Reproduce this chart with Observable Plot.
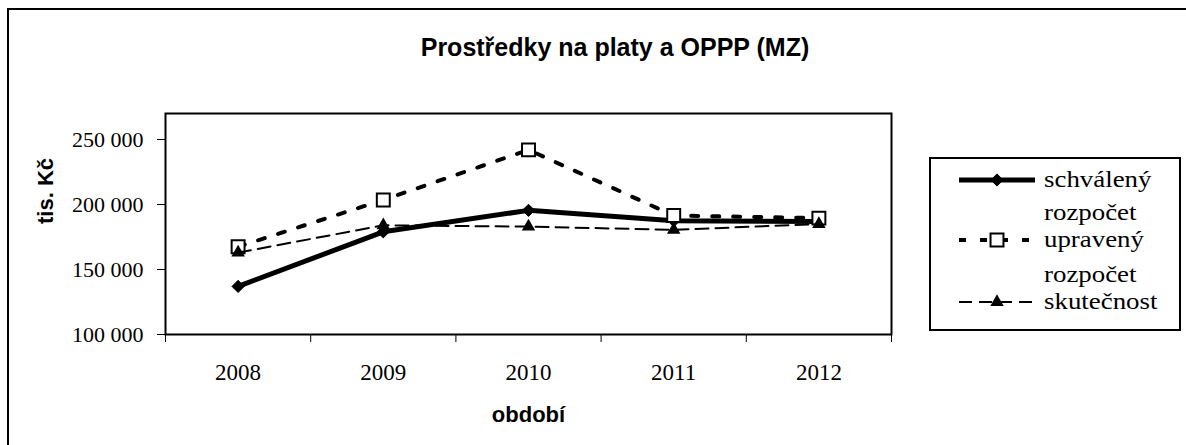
<!DOCTYPE html>
<html>
<head>
<meta charset="utf-8">
<script src="https://cdn.jsdelivr.net/npm/d3@7"></script>
<script src="https://cdn.jsdelivr.net/npm/@observablehq/plot@0.6"></script>
<style>
  html, body { margin: 0; padding: 0; background: #fff; overflow: hidden; }
  #wrap { position: relative; width: 1186px; height: 445px; overflow: hidden; background: #fff; }
  #border { position: absolute; left: 7px; top: 8px; width: 1200px; height: 460px; border: 2px solid #000; box-sizing: border-box; }
  #title { position: absolute; left: 0; top: 35px; width: 1230px; text-align: center; font-family: "Liberation Sans"; font-weight: bold; font-size: 25px; line-height: 25px; color: #000; }
  #chart { position: absolute; left: 0; top: 0; }
  #legend { position: absolute; left: 929px; top: 157px; }
</style>
</head>
<body>
<div id="wrap">
  <div id="border"></div>
  <div id="chart"></div>
  <div id="title"></div>
  <div id="legend"></div>
</div>
<script>
// ---- data ----
const titleText = "Prostředky na platy a OPPP (MZ)";
const yLabel = "tis. Kč";
const xLabel = "období";
const years = [2008, 2009, 2010, 2011, 2012];
const schvaleny = [137000, 179000, 195500, 187500, 187000];
const upraveny = [167500, 203500, 242000, 191500, 189500];
const skutecnost = [163000, 184000, 183000, 180500, 185000];
const yTicks = [100000, 150000, 200000, 250000];
const legendLines = [["schválený"], ["rozpočet", "upravený"], ["rozpočet", "skutečnost"]];

const fmt = d => d3.format(",")(d).replace(/,/g, " ");
const rows = vals => years.map((yr, i) => ({year: yr, value: vals[i]}));
const boundaries = years.map(y => y - 0.5).concat([years[years.length - 1] + 0.5]);

document.getElementById("title").textContent = titleText;

const chart = Plot.plot({
  width: 1186,
  height: 445,
  marginLeft: 165,
  marginRight: 295,
  marginTop: 113,
  marginBottom: 111,
  style: {fontFamily: "Liberation Serif", fontSize: "22px", color: "#000", background: "transparent"},
  x: {type: "linear", domain: [boundaries[0], boundaries[boundaries.length - 1]]},
  y: {domain: [100000, 270000]},
  marks: [
    Plot.axisY({ticks: yTicks, tickSize: 8, tickPadding: 14, tickFormat: fmt, label: null, fontSize: 22}),
    Plot.axisX({ticks: boundaries, tickSize: 8, tickFormat: () => "", label: null}),
    Plot.axisX({ticks: years, tickSize: 0, tickPadding: 29, tickFormat: d => String(d), label: null, fontSize: 23}),
    Plot.frame({stroke: "#000", strokeWidth: 2}),
    Plot.text([yLabel], {frameAnchor: "left", dx: -120, rotate: -90, fontWeight: "bold", fontSize: 22}),
    Plot.text([xLabel], {frameAnchor: "bottom", dy: 87, lineAnchor: "bottom", fontWeight: "bold", fontSize: 22}),
    Plot.line(rows(schvaleny), {x: "year", y: "value", stroke: "#000", strokeWidth: 5}),
    Plot.dot(rows(schvaleny), {x: "year", y: "value", symbol: "diamond2", r: 5.5, fill: "#000", stroke: "#000", strokeWidth: 1}),
    Plot.line(rows(upraveny), {x: "year", y: "value", stroke: "#000", strokeWidth: 4, strokeDasharray: "7,14"}),
    Plot.dot(rows(upraveny), {x: "year", y: "value", symbol: "square", r: 7.3, fill: "#fff", stroke: "#000", strokeWidth: 2}),
    Plot.line(rows(skutecnost), {x: "year", y: "value", stroke: "#000", strokeWidth: 2, strokeDasharray: "13,7"}),
    Plot.dot(rows(skutecnost), {x: "year", y: "value", symbol: "triangle", r: 5, fill: "#000", stroke: "none"})
  ]
});
document.getElementById("chart").appendChild(chart);
// fonts: serif for tick labels, bold sans for axis titles
d3.select(chart).selectAll("text").each(function() {
  const t = this.textContent;
  if (t === yLabel || t === xLabel) {
    this.style.fontFamily = '"Liberation Sans"';
    this.style.fontWeight = "bold";
  } else {
    this.style.fontFamily = '"Liberation Serif"';
  }
});

// ---- legend ----
const lw = 252, lh = 174;
const lsvg = d3.select("#legend").append("svg").attr("width", lw).attr("height", lh);
lsvg.append("rect").attr("x", 1).attr("y", 1).attr("width", lw - 2).attr("height", lh - 2)
  .attr("fill", "#fff").attr("stroke", "#000").attr("stroke-width", 2);
const styles = [
  {w: 5, dash: null, sym: d3.symbolDiamond2, r: 5.5, fill: "#000", stroke: "#000", sw: 1},
  {w: 4, dash: "7,14", sym: d3.symbolSquare, r: 7.3, fill: "#fff", stroke: "#000", sw: 2},
  {w: 2, dash: "13,7", sym: d3.symbolTriangle, r: 5, fill: "#000", stroke: "none", sw: 0}
];
const sampleY = [23, 83, 145];
legendLines.forEach((lines, i) => {
  const s = styles[i];
  const g = lsvg.append("g");
  const ln = g.append("line").attr("x1", 30).attr("x2", 106).attr("y1", sampleY[i]).attr("y2", sampleY[i])
    .attr("stroke", "#000").attr("stroke-width", s.w);
  if (s.dash) ln.attr("stroke-dasharray", s.dash);
  g.append("path").attr("d", d3.symbol(s.sym, Math.PI * s.r * s.r)())
    .attr("transform", `translate(68,${sampleY[i]})`)
    .attr("fill", s.fill).attr("stroke", s.stroke).attr("stroke-width", s.sw);
  lines.forEach((t, j) => {
    const base = sampleY[i] + 7 - (lines.length - 1 - j) * 27;
    g.append("text").attr("transform", `translate(115,${base}) scale(1.12,1)`).text(t).attr("fill", "#000")
      .attr("font-family", "Liberation Serif").attr("font-size", 24);
  });
});
</script>
</body>
</html>
